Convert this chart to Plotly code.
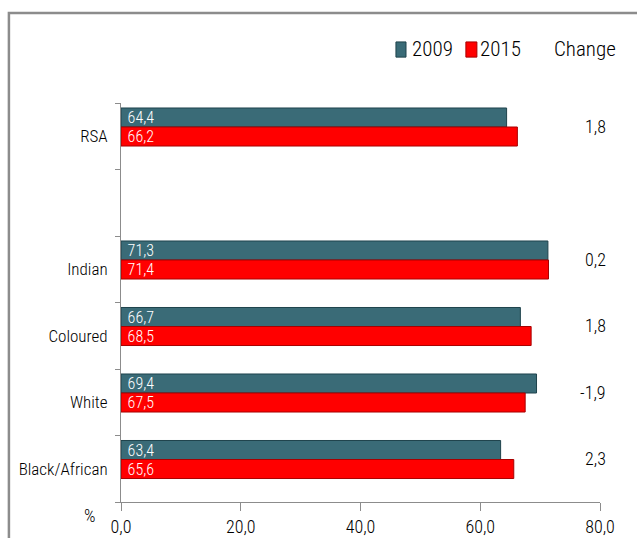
import plotly.graph_objects as go

categories = ["Black/African", "White", "Coloured", "Indian", " ", "RSA"]
bar_cats = ["Black/African", "White", "Coloured", "Indian", "RSA"]
values_2009 = [63.4, 69.4, 66.7, 71.3, 64.4]
values_2015 = [65.6, 67.5, 68.5, 71.4, 66.2]
change_labels = ["2,3", "-1,9", "1,8", "0,2", "1,8"]
x_ticks = [0, 20, 40, 60, 80]
series_names = ["2009", "2015"]

FONT = "Roboto Condensed, Liberation Sans Narrow, Arial Narrow, sans-serif"
W = 350
TEAL = "#3A6B77"
TEAL_EDGE = "#1F434C"
RED = "#FF0000"
RED_EDGE = "#A80000"

fig = go.Figure()
fig.add_trace(go.Bar(
    name=series_names[0], y=bar_cats, x=values_2009, orientation="h",
    width=0.286, offset=0.139,
    marker=dict(color=TEAL, line=dict(color=TEAL_EDGE, width=1)),
    texttemplate="\u00a0%{x:.1f}", textposition="inside", insidetextanchor="start",
    constraintext="none",
    textfont=dict(color="white", size=16, family=FONT, weight=W),
    showlegend=False,
))
fig.add_trace(go.Bar(
    name=series_names[1], y=bar_cats, x=values_2015, orientation="h",
    width=0.286, offset=-0.147,
    marker=dict(color=RED, line=dict(color=RED_EDGE, width=1)),
    texttemplate="\u00a0%{x:.1f}", textposition="inside", insidetextanchor="start",
    constraintext="none",
    textfont=dict(color="white", size=16, family=FONT, weight=W),
    showlegend=False,
))

annotations = []
for cat, lab in zip(bar_cats, change_labels):
    annotations.append(dict(
        x=1.0, xref="paper", y=cat, yref="y", yshift=10, xshift=8,
        text=lab, showarrow=False, xanchor="right",
        font=dict(size=18, family=FONT, color="black", weight=W),
    ))
annotations.append(dict(
    x=-0.065, xref="paper", y=-0.033, yref="paper", text="%", showarrow=False,
    xanchor="center", yanchor="middle", font=dict(size=18, family=FONT, color="black", weight=W),
))
# manual legend
legend_y = 1.135
annotations += [
    dict(x=0.603, xref="paper", y=legend_y, yref="paper", text=series_names[0], showarrow=False,
         xanchor="left", yanchor="middle", font=dict(size=21, family=FONT, color="black", weight=W)),
    dict(x=0.745, xref="paper", y=legend_y, yref="paper", text=series_names[1], showarrow=False,
         xanchor="left", yanchor="middle", font=dict(size=21, family=FONT, color="black", weight=W)),
    dict(x=0.900, xref="paper", y=legend_y, yref="paper", text="Change", showarrow=False,
         xanchor="left", yanchor="middle", font=dict(size=21, family=FONT, color="black", weight=W)),
]

shapes = [
    dict(type="path", xref="paper", yref="paper",
         path="M -0.234,-0.2 L -0.234,1.2256 L 1.2,1.2256",
         line=dict(color="#8C8C8C", width=2.5)),
    dict(type="rect", xref="paper", yref="paper", x0=0.574, x1=0.595, y0=1.115, y1=1.153,
         fillcolor=TEAL, line=dict(color=TEAL_EDGE, width=1)),
    dict(type="rect", xref="paper", yref="paper", x0=0.720, x1=0.743, y0=1.115, y1=1.153,
         fillcolor=RED, line=dict(color=RED_EDGE, width=1)),
]

fig.update_layout(
    width=637, height=538,
    margin=dict(l=121, r=37, t=103, b=36, autoexpand=False),
    paper_bgcolor="white", plot_bgcolor="white",
    separators=",.",
    barmode="overlay",
    font=dict(family=FONT, color="black", weight=W),
    showlegend=False,
    annotations=annotations,
    shapes=shapes,
)
fig.update_xaxes(range=[0, 80], tickvals=x_ticks, tickformat=".1f", automargin=False,
                 showgrid=False, zeroline=False, showline=True, linecolor="#8C8C8C", linewidth=1,
                 ticks="outside", ticklen=8, tickcolor="#8C8C8C", ticklabelstandoff=0,
                 tickfont=dict(size=18, family=FONT, weight=W))
fig.update_yaxes(type="category", categoryorder="array", categoryarray=categories, automargin=False,
                 range=[-0.5, 5.5], tickson="boundaries",
                 showgrid=False, zeroline=False, showline=True, linecolor="#8C8C8C", linewidth=1,
                 ticks="outside", ticklen=5, tickcolor="#8C8C8C", ticklabelstandoff=9,
                 tickfont=dict(size=17, family=FONT, weight=W))

fig.write_html("out.html")
